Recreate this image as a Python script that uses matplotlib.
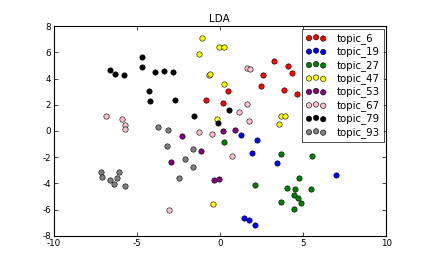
import matplotlib
matplotlib.use('Agg')
import matplotlib.pyplot as plt

# coordinates, one list per topic
topic_labels = ['topic_6', 'topic_19', 'topic_27', 'topic_47',
                'topic_53', 'topic_67', 'topic_79', 'topic_93']
topic_colors = ['red', 'blue', 'green', 'yellow',
                'purple', 'pink', 'black', 'gray']

x_6 = [-0.86, 0.17, 0.49, 2.47, 2.61, 3.23, 4.10, 4.31, 3.86, 4.63]
y_6 = [2.33, 2.16, 3.02, 3.41, 4.28, 5.37, 4.96, 4.45, 3.12, 2.82]

x_19 = [1.25, 2.23, 1.95, 3.45, 6.98, 1.47, 1.77, 2.09]
y_19 = [-0.32, -0.65, -1.67, -2.41, -3.38, -6.67, -6.83, -7.21]

x_27 = [0.25, 3.69, 5.54, 2.13, 4.77, 4.01, 4.53, 5.51, 4.45, 4.69, 4.91, 3.69, 4.43]
y_27 = [-0.86, -1.75, -1.88, -4.15, -3.61, -4.35, -4.45, -4.40, -4.91, -5.12, -5.53, -5.42, -5.93]

x_47 = [-1.07, -1.23, -0.03, 0.25, -0.63, -0.58, 0.25, -0.17, 3.67, 3.93, 3.53, -0.43]
y_47 = [7.13, 5.91, 6.44, 6.44, 4.25, 4.38, 3.56, 0.93, 1.11, 1.13, 0.50, -5.55]

x_53 = [-2.25, -2.93, -1.11, 0.21, 0.89, -0.35, -0.05]
y_53 = [-0.40, -2.33, -1.54, -0.01, 0.04, -3.71, -3.66]

x_67 = [-6.82, -5.86, -5.70, -5.70, -1.28, -0.50, 0.74, -3.03, 1.65, 1.83, 1.65, 1.13, 1.77]
y_67 = [1.14, 0.88, 0.42, 0.19, -0.09, -0.20, -1.94, -6.06, 4.84, 4.76, 2.03, 1.47, 0.75]

x_79 = [-6.62, -6.28, -5.76, -4.69, -4.67, -3.91, -3.37, -2.81, -4.27, -4.23, -2.69, -1.55, -0.09, 0.57]
y_79 = [4.66, 4.38, 4.25, 5.63, 4.91, 4.53, 4.55, 4.53, 3.07, 2.26, 2.33, 1.11, 0.60, 1.59]

x_93 = [-3.71, -3.09, -3.15, -1.59, -2.11, -1.59, -2.45, -7.18, -7.10, -6.05, -6.62, -6.38, -6.20, -5.72]
y_93 = [0.32, 0.04, -1.11, -1.34, -2.16, -2.72, -3.59, -3.13, -3.48, -3.13, -3.76, -4.02, -3.61, -4.22]

xs = [x_6, x_19, x_27, x_47, x_53, x_67, x_79, x_93]
ys = [y_6, y_19, y_27, y_47, y_53, y_67, y_79, y_93]

plt.rcParams['font.family'] = ['DejaVu Sans']
plt.rcParams['font.size'] = 6
plt.rcParams['axes.unicode_minus'] = False
plt.rcParams['xtick.direction'] = 'in'
plt.rcParams['ytick.direction'] = 'in'
plt.rcParams['xtick.top'] = True
plt.rcParams['ytick.right'] = True

fig = plt.figure(figsize=(4.29, 2.62), dpi=100)
ax = fig.add_axes([0.125, 0.1, 0.775, 0.8])

for xv, yv, c, lab in zip(xs, ys, topic_colors, topic_labels):
    ax.scatter(xv, yv, s=15, c=c, edgecolors='black', linewidths=0.4, label=lab)

ax.set_xlim(-10, 10)
ax.set_ylim(-8, 8)
ax.set_xticks([-10, -5, 0, 5, 10])
ax.set_yticks(range(-8, 9, 2))
ax.tick_params(length=3, width=0.5, labelsize=6.3, pad=2)
for sp in ax.spines.values():
    sp.set_linewidth(0.8)
ax.set_title('LDA', fontsize=7.5, pad=3)

leg = ax.legend(loc='upper right', scatterpoints=3,
                scatteryoffsets=[0.375, 0.5, 0.3125], fontsize=7.3,
                fancybox=False, borderaxespad=0.25, handletextpad=1.0,
                labelspacing=0.25, borderpad=0.4, handlelength=2.0)
leg.get_frame().set_edgecolor('black')
leg.get_frame().set_linewidth(0.6)

fig.savefig('out.png', dpi=100, facecolor='white')
